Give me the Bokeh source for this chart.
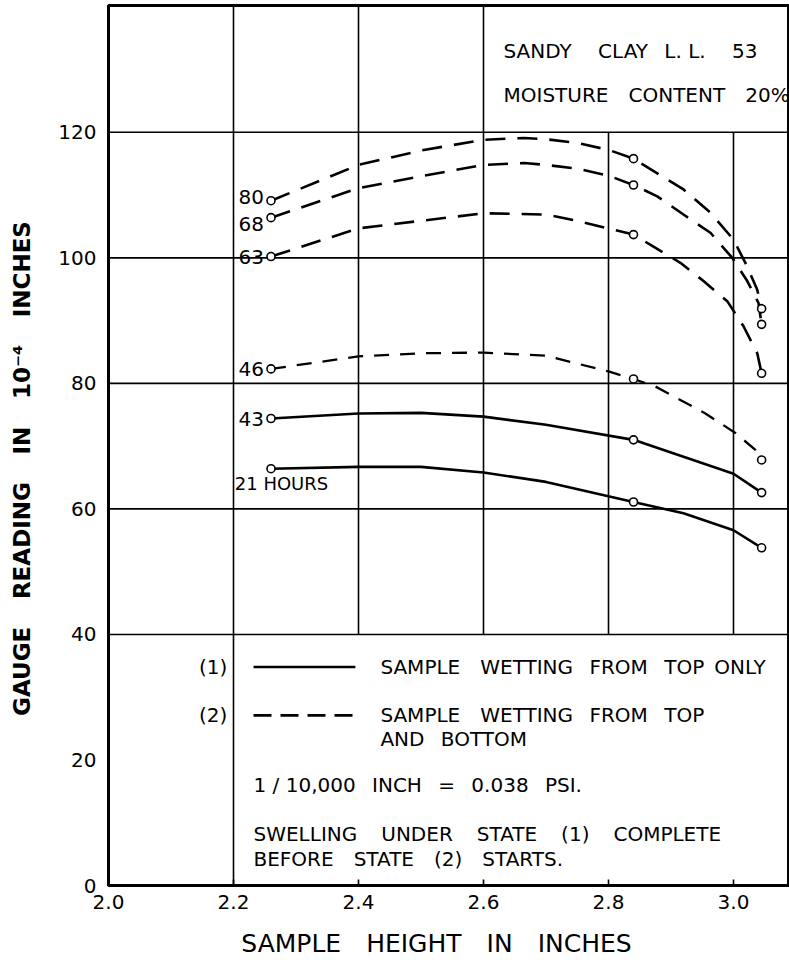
from bokeh.plotting import figure
from bokeh.models import FixedTicker, Range1d
from bokeh.embed import file_html
from bokeh.resources import INLINE
from bokeh.core.properties import value

FONT = "DejaVu Sans"
EN = "\u2002"
EM = "\u2003"
TH = "\u2009"

# ---- data ----
heights = [2.26, 2.84, 3.045]          # sample heights where readings were taken
hours_labels = ["80", "68", "63", "46", "43"]
readings_21 = [66.4, 61.1, 53.8]
readings_43 = [74.4, 71.0, 62.6]
readings_46 = [82.3, 80.7, 67.8]
readings_63 = [100.2, 103.7, 81.6]
readings_68 = [106.4, 111.6, 89.4]
readings_80 = [109.1, 115.8, 91.9]

# hand-drawn smooth curves
curve_x_21 = [2.26, 2.40, 2.50, 2.60, 2.70, 2.84, 2.92, 3.00, 3.045]
curve_y_21 = [66.4, 66.7, 66.7, 65.8, 64.3, 61.1, 59.3, 56.6, 53.8]
curve_x_43 = [2.26, 2.40, 2.50, 2.60, 2.70, 2.84, 2.92, 3.00, 3.045]
curve_y_43 = [74.4, 75.2, 75.3, 74.7, 73.4, 71.0, 68.3, 65.6, 62.6]
curve_x_46 = [2.26, 2.40, 2.50, 2.60, 2.70, 2.80, 2.84, 2.875, 2.955, 3.003, 3.035, 3.045]
curve_y_46 = [82.3, 84.3, 84.8, 84.9, 84.4, 81.9, 80.7, 79.5, 75.2, 72.1, 69.4, 67.8]
curve_x_63 = [2.26, 2.40, 2.50, 2.60, 2.70, 2.75, 2.84, 2.870, 2.915, 2.952, 2.990, 3.016, 3.038, 3.045]
curve_y_63 = [100.2, 104.7, 105.9, 107.1, 106.9, 105.9, 103.7, 101.9, 99.2, 96.3, 93.1, 89.1, 84.8, 81.6]
curve_x_68 = [2.26, 2.40, 2.50, 2.60, 2.665, 2.70, 2.75, 2.80, 2.84, 2.878, 2.920, 2.963, 2.998, 3.022, 3.040, 3.045]
curve_y_68 = [106.4, 111.1, 113.0, 114.8, 115.1, 114.8, 114.2, 113.1, 111.6, 109.8, 106.9, 104.0, 100.0, 96.3, 92.8, 89.4]
curve_x_80 = [2.26, 2.40, 2.50, 2.60, 2.665, 2.70, 2.75, 2.80, 2.84, 2.920, 2.963, 3.000, 3.022, 3.038, 3.045]
curve_y_80 = [109.1, 114.8, 117.1, 118.8, 119.1, 118.9, 118.3, 117.2, 115.8, 110.9, 107.2, 102.9, 98.6, 94.9, 91.9]

x_ticks = [2.0, 2.2, 2.4, 2.6, 2.8, 3.0]
y_ticks = [0, 20, 40, 60, 80, 100, 120]

X_END = 3.0896
Y_END = 140.2

# ---- figure ----
p = figure(width=789, height=960, output_backend="svg", toolbar_location=None,
           x_range=Range1d(2.0, X_END), y_range=Range1d(0, Y_END),
           min_border_left=108, min_border_right=0, min_border_top=5, min_border_bottom=75)
p.outline_line_color = "black"
p.outline_line_width = 3
p.xgrid.visible = False
p.ygrid.visible = False
p.background_fill_color = "white"
p.border_fill_color = "white"

# grid lines (partial, as drawn in the original)
hy = y_ticks[2:]
p.segment(x0=[2.0] * len(hy), y0=hy, x1=[X_END] * len(hy), y1=hy,
          line_color="black", line_width=1.6)
vx = x_ticks[1:]
vy0 = [0, 40, 40, 40, 40]
vy1 = [Y_END, Y_END, Y_END, 120, 120]
p.segment(x0=vx, y0=vy0, x1=vx, y1=vy1, line_color="black", line_width=1.6)

# curves
lw = 2.6
p.line(curve_x_21, curve_y_21, line_color="black", line_width=lw, line_join="round")
p.line(curve_x_43, curve_y_43, line_color="black", line_width=lw, line_join="round")
p.line(curve_x_46, curve_y_46, line_color="black", line_width=2.3, line_dash="15 11")
p.line(curve_x_63, curve_y_63, line_color="black", line_width=lw, line_dash="20 12")
p.line(curve_x_68, curve_y_68, line_color="black", line_width=lw, line_dash="20 12")
p.line(curve_x_80, curve_y_80, line_color="black", line_width=lw, line_dash="20 12")

for r in [readings_21, readings_43, readings_46, readings_63, readings_68, readings_80]:
    p.scatter(heights, r, size=8, marker="circle", fill_color="white",
              line_color="black", line_width=1.6)

# series labels
left_x = [heights[0]] * 5
left_y = [readings_80[0] + 0.6, readings_68[0] - 1.0, readings_63[0],
          readings_46[0], readings_43[0]]
p.text(x=left_x, y=left_y, text=hours_labels, x_offset=-7,
       text_align="right", text_baseline="middle",
       text_font=value(FONT), text_font_size="20px", text_color="black")
p.text(x=[2.202], y=[64.1], text=["21 HOURS"], text_align="left",
       text_baseline="middle", text_font=value(FONT), text_font_size="18px",
       text_color="black")

# notes
def note(x, y, s, size="20px", align="left"):
    p.text(x=[x], y=[y], text=[s], text_align=align, text_baseline="middle",
           text_font=value(FONT), text_font_size=size, text_color="black")

G = EN + " "
note(2.632, 132.9, "SANDY" + EM + " " + "CLAY" + G + "L." + " " + "L." + EM + " " + "53")
note(2.632, 125.9, "MOISTURE" + EM + "CONTENT" + EM + "20%")
note(2.19, 34.8, "(1)", align="right")
note(2.19, 27.1, "(2)", align="right")
p.line([2.232, 2.395], [34.8, 34.8], line_color="black", line_width=2.6)
p.line([2.232, 2.395], [27.1, 27.1], line_color="black", line_width=2.6, line_dash="18 9")
note(2.435, 34.8, "SAMPLE" + EM + "WETTING" + G + "FROM" + G + "TOP" + EN + "ONLY")
note(2.435, 27.1, "SAMPLE" + EM + "WETTING" + G + "FROM" + G + "TOP")
note(2.435, 23.4, "AND" + G + "BOTTOM")
note(2.232, 16.0, "1 / 10,000" + G + "INCH" + G + "=" + G + "0.038" + G + "PSI.")
W = EM + TH
note(2.232, 8.2, "SWELLING" + W + "UNDER" + W + "STATE" + W + "(1)" + W + "COMPLETE")
note(2.232, 4.2, "BEFORE" + EM + "STATE" + EM + "(2)" + EM + "STARTS.")

# axes
p.xaxis.ticker = FixedTicker(ticks=x_ticks)
p.yaxis.ticker = FixedTicker(ticks=y_ticks)
p.xaxis.major_label_overrides = {t: f"{t:.1f}" for t in x_ticks}
for ax in (p.xaxis, p.yaxis):
    ax.axis_line_width = 3
    ax.axis_line_color = "black"
    ax.minor_tick_line_color = None
    ax.major_label_text_font = FONT
    ax.major_label_text_font_size = "20px"
    ax.major_label_text_color = "black"
    ax.axis_label_text_color = "black"
    ax.axis_label_text_font = FONT
    ax.axis_label_text_font_style = "normal"
p.xaxis.major_tick_in = 6
p.xaxis.major_tick_out = 0
p.xaxis.major_tick_line_width = 1.6
p.yaxis.major_tick_in = 0
p.yaxis.major_tick_out = 0
p.xaxis.major_label_standoff = 9
p.yaxis.major_label_standoff = 12
p.xaxis.axis_label = "SAMPLE" + EM + "HEIGHT" + EM + "IN" + EM + "INCHES" + EM
p.xaxis.axis_label_text_font_size = "25px"
p.xaxis.axis_label_standoff = 17
p.yaxis.axis_label = ("GAUGE" + W + "READING" + W + "IN" + W + "10\u207b\u2074"
                      + W + "INCHES" + EM + EM)
p.yaxis.axis_label_text_font_size = "23px"
p.yaxis.axis_label_text_font_style = "bold"
p.yaxis.axis_label_standoff = 20

open("out.html", "w").write(file_html(p, INLINE))
